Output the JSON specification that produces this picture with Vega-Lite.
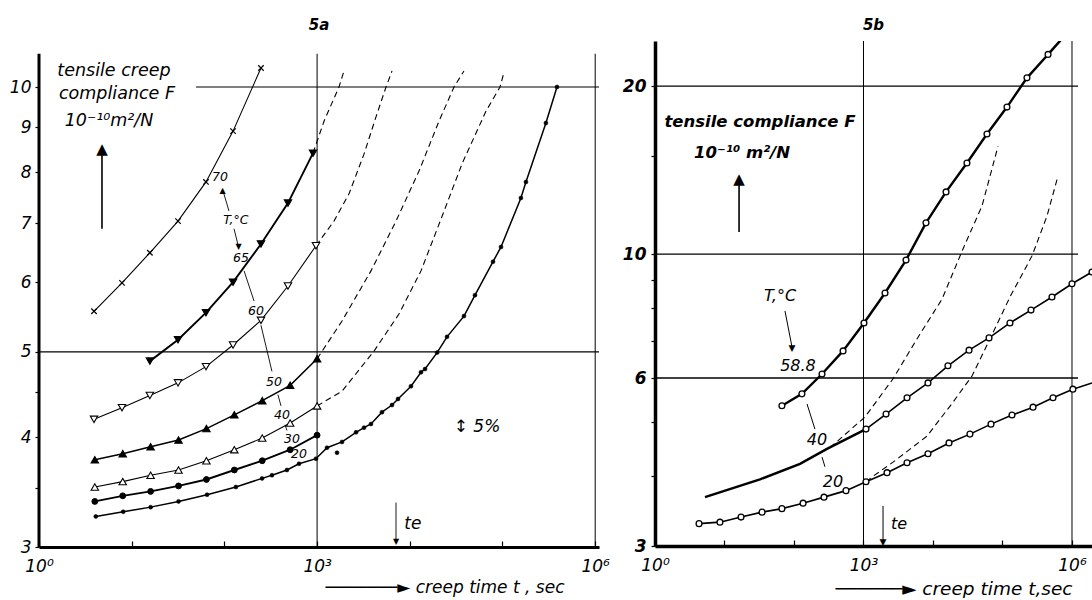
{
  "$schema": "https://vega.github.io/schema/vega-lite/v6.json",
  "background": "white",
  "padding": {"left": 9, "top": 17, "right": 0, "bottom": 0},
  "config": {
    "font": "DejaVu Sans",
    "view": {"stroke": null},
    "axis": {"domainColor": "black", "tickColor": "black", "labelColor": "black", "titleColor": "black", "grid": false, "labelOverlap": false, "labelFlush": false},
    "title": {"fontSize": 15, "fontWeight": "bold", "fontStyle": "italic", "color": "black", "anchor": "middle"}
  },
  "datasets": {
    "a_yaxis": [{"t": 1, "F": 3, "F2": 10.91}],
    "a_hgrid": [{"F": 5, "t": 1, "t2": 1099000}, {"F": 10, "t": 49.4, "t2": 1099000}],
    "a_vgrid": [{"t": 1000, "F": 3, "F2": 10.91}, {"t": 1000000, "F": 3, "F2": 10.91}],
    "a_meas": [
      {"T": "70", "t": 3.92, "F": 5.56}, {"T": "70", "t": 7.86, "F": 5.99}, {"T": "70", "t": 15.7, "F": 6.48}, {"T": "70", "t": 31.6, "F": 7.04}, {"T": "70", "t": 63.3, "F": 7.8}, {"T": "70", "t": 124, "F": 8.91}, {"T": "70", "t": 248, "F": 10.51},
      {"T": "65", "t": 15.7, "F": 4.88}, {"T": "65", "t": 31.6, "F": 5.16}, {"T": "65", "t": 63.3, "F": 5.54}, {"T": "65", "t": 124, "F": 6.0}, {"T": "65", "t": 248, "F": 6.63}, {"T": "65", "t": 485, "F": 7.38}, {"T": "65", "t": 903, "F": 8.41},
      {"T": "60", "t": 3.92, "F": 4.19}, {"T": "60", "t": 7.86, "F": 4.32}, {"T": "60", "t": 15.7, "F": 4.46}, {"T": "60", "t": 31.6, "F": 4.61}, {"T": "60", "t": 63.3, "F": 4.81}, {"T": "60", "t": 124, "F": 5.09}, {"T": "60", "t": 248, "F": 5.43}, {"T": "60", "t": 485, "F": 5.94}, {"T": "60", "t": 973, "F": 6.6},
      {"T": "50", "t": 4, "F": 3.77}, {"T": "50", "t": 8, "F": 3.83}, {"T": "50", "t": 16, "F": 3.9}, {"T": "50", "t": 32, "F": 3.97}, {"T": "50", "t": 64, "F": 4.09}, {"T": "50", "t": 128, "F": 4.24}, {"T": "50", "t": 256, "F": 4.4}, {"T": "50", "t": 512, "F": 4.58}, {"T": "50", "t": 1000, "F": 4.91},
      {"T": "40", "t": 4, "F": 3.51}, {"T": "40", "t": 8, "F": 3.56}, {"T": "40", "t": 16, "F": 3.62}, {"T": "40", "t": 32, "F": 3.67}, {"T": "40", "t": 64, "F": 3.76}, {"T": "40", "t": 128, "F": 3.87}, {"T": "40", "t": 256, "F": 3.99}, {"T": "40", "t": 512, "F": 4.15}, {"T": "40", "t": 1000, "F": 4.34},
      {"T": "30", "t": 4, "F": 3.38}, {"T": "30", "t": 8, "F": 3.43}, {"T": "30", "t": 16, "F": 3.47}, {"T": "30", "t": 32, "F": 3.52}, {"T": "30", "t": 64, "F": 3.58}, {"T": "30", "t": 128, "F": 3.67}, {"T": "30", "t": 256, "F": 3.76}, {"T": "30", "t": 512, "F": 3.87}, {"T": "30", "t": 1000, "F": 4.02},
      {"T": "20", "t": 4.1, "F": 3.25}, {"T": "20", "t": 8.1, "F": 3.29}, {"T": "20", "t": 16, "F": 3.33}, {"T": "20", "t": 32, "F": 3.38}, {"T": "20", "t": 65, "F": 3.44}, {"T": "20", "t": 133, "F": 3.51}, {"T": "20", "t": 255, "F": 3.59}, {"T": "20", "t": 326, "F": 3.62}, {"T": "20", "t": 473, "F": 3.67}, {"T": "20", "t": 638, "F": 3.73}, {"T": "20", "t": 973, "F": 3.78}, {"T": "20", "t": 1279, "F": 3.89}, {"T": "20", "t": 1857, "F": 3.95}, {"T": "20", "t": 2630, "F": 4.05}, {"T": "20", "t": 3206, "F": 4.1}, {"T": "20", "t": 3813, "F": 4.14}, {"T": "20", "t": 5010, "F": 4.27}, {"T": "20", "t": 6430, "F": 4.35}, {"T": "20", "t": 7460, "F": 4.42}, {"T": "20", "t": 10300, "F": 4.57}, {"T": "20", "t": 13200, "F": 4.74}, {"T": "20", "t": 14600, "F": 4.78}, {"T": "20", "t": 19700, "F": 4.99}, {"T": "20", "t": 25200, "F": 5.2}, {"T": "20", "t": 38400, "F": 5.49}, {"T": "20", "t": 50500, "F": 5.8}, {"T": "20", "t": 79000, "F": 6.33}, {"T": "20", "t": 96400, "F": 6.58}, {"T": "20", "t": 158000, "F": 7.48}, {"T": "20", "t": 179000, "F": 7.8}, {"T": "20", "t": 294000, "F": 9.1}, {"T": "20", "t": 387000, "F": 10.0},
      {"T": "20b", "t": 1640, "F": 3.84}
    ],
    "a_ext": [
      {"T": "65", "t": 903, "F": 8.41}, {"T": "65", "t": 1190, "F": 9.15}, {"T": "65", "t": 1722, "F": 10.0}, {"T": "65", "t": 1950, "F": 10.43},
      {"T": "60", "t": 973, "F": 6.6}, {"T": "60", "t": 1521, "F": 7.04}, {"T": "60", "t": 2208, "F": 7.56}, {"T": "60", "t": 3206, "F": 8.39}, {"T": "60", "t": 4320, "F": 9.25}, {"T": "60", "t": 5540, "F": 10.0}, {"T": "60", "t": 6430, "F": 10.43},
      {"T": "50", "t": 1000, "F": 4.91}, {"T": "50", "t": 1857, "F": 5.42}, {"T": "50", "t": 3813, "F": 6.18}, {"T": "50", "t": 7100, "F": 7.04}, {"T": "50", "t": 12600, "F": 8.03}, {"T": "50", "t": 20700, "F": 9.15}, {"T": "50", "t": 30000, "F": 10.0}, {"T": "50", "t": 38400, "F": 10.43},
      {"T": "40", "t": 1000, "F": 4.34}, {"T": "40", "t": 1857, "F": 4.51}, {"T": "40", "t": 4110, "F": 5.01}, {"T": "40", "t": 7640, "F": 5.52}, {"T": "40", "t": 13200, "F": 6.18}, {"T": "40", "t": 22200, "F": 7.12}, {"T": "40", "t": 36600, "F": 8.18}, {"T": "40", "t": 66400, "F": 9.39}, {"T": "40", "t": 94000, "F": 10.0}, {"T": "40", "t": 104000, "F": 10.4}
    ],
    "a_lead": [
      {"kind": "arrow", "t": 4.78, "F": 6.9, "t2": 4.78, "F2": 8.4},
      {"kind": "thin", "t": 112, "F": 7.23, "t2": 96.6, "F2": 7.62},
      {"kind": "thin", "t": 127, "F": 6.9, "t2": 142, "F2": 6.58},
      {"kind": "thin", "t": 163, "F": 6.18, "t2": 209, "F2": 5.71},
      {"kind": "thin", "t": 248, "F": 5.36, "t2": 326, "F2": 4.75},
      {"kind": "thin", "t": 378, "F": 4.47, "t2": 408, "F2": 4.34},
      {"kind": "thin", "t": 451, "F": 4.13, "t2": 473, "F2": 4.07},
      {"kind": "thin", "t": 7100, "F": 3.37, "t2": 7100, "F2": 3.04}
    ],
    "a_head": [
      {"kind": "big", "dir": "up", "t": 4.78, "F": 8.51},
      {"kind": "small", "dir": "up", "t": 95.4, "F": 7.62},
      {"kind": "small", "dir": "down", "t": 142, "F": 6.58},
      {"kind": "small", "dir": "down", "t": 7100, "F": 3.04}
    ],
    "a_text": [
      {"role": "title", "label": "tensile creep", "t": 6.44, "F": 10.43},
      {"role": "title", "label": "compliance F", "t": 6.94, "F": 9.82},
      {"role": "title", "label": "10⁻¹⁰m²/N", "t": 5.69, "F": 9.15},
      {"role": "temp", "label": "70", "t": 89.7, "F": 7.9},
      {"role": "temp", "label": "T,°C", "t": 133, "F": 7.06},
      {"role": "temp", "label": "65", "t": 151, "F": 6.39},
      {"role": "temp", "label": "60", "t": 219, "F": 5.56},
      {"role": "temp", "label": "50", "t": 343, "F": 4.62},
      {"role": "temp", "label": "40", "t": 418, "F": 4.24},
      {"role": "temp", "label": "30", "t": 536, "F": 3.98},
      {"role": "temp", "label": "20", "t": 638, "F": 3.83},
      {"role": "note", "label": "↕ 5%", "t": 53100, "F": 4.11},
      {"role": "note", "label": "te", "t": 10800, "F": 3.19}
    ],
    "b_hgrid": [{"F": 6, "t": 1, "t2": 1220000}, {"F": 10, "t": 1, "t2": 1220000}, {"F": 20, "t": 1, "t2": 1220000}],
    "b_vgrid": [{"t": 1000, "F": 3, "F2": 24.1}, {"t": 1000000, "F": 3, "F2": 24.1}],
    "b_meas": [
      {"T": "58.8", "t": 67, "F": 5.35}, {"T": "58.8", "t": 130, "F": 5.62}, {"T": "58.8", "t": 253, "F": 6.1}, {"T": "58.8", "t": 508, "F": 6.71}, {"T": "58.8", "t": 1016, "F": 7.53}, {"T": "58.8", "t": 2040, "F": 8.52}, {"T": "58.8", "t": 4090, "F": 9.76}, {"T": "58.8", "t": 7930, "F": 11.38}, {"T": "58.8", "t": 15400, "F": 12.93}, {"T": "58.8", "t": 30800, "F": 14.57}, {"T": "58.8", "t": 59800, "F": 16.42}, {"T": "58.8", "t": 116000, "F": 18.35}, {"T": "58.8", "t": 225000, "F": 20.7}, {"T": "58.8", "t": 452000, "F": 22.8},
      {"T": "40", "t": 1086, "F": 4.86}, {"T": "40", "t": 2110, "F": 5.17}, {"T": "40", "t": 4230, "F": 5.53}, {"T": "40", "t": 8470, "F": 5.88}, {"T": "40", "t": 16400, "F": 6.31}, {"T": "40", "t": 33000, "F": 6.73}, {"T": "40", "t": 64000, "F": 7.08}, {"T": "40", "t": 128000, "F": 7.53}, {"T": "40", "t": 257000, "F": 7.94}, {"T": "40", "t": 515000, "F": 8.38}, {"T": "40", "t": 1000000, "F": 8.85}, {"T": "40", "t": 1940000, "F": 9.29},
      {"T": "20", "t": 4.3, "F": 3.29}, {"T": "20", "t": 8.6, "F": 3.31}, {"T": "20", "t": 17.3, "F": 3.38}, {"T": "20", "t": 34.7, "F": 3.45}, {"T": "20", "t": 67, "F": 3.5}, {"T": "20", "t": 135, "F": 3.58}, {"T": "20", "t": 270, "F": 3.67}, {"T": "20", "t": 560, "F": 3.77}, {"T": "20", "t": 1086, "F": 3.91}, {"T": "20", "t": 2180, "F": 4.06}, {"T": "20", "t": 4230, "F": 4.23}, {"T": "20", "t": 8470, "F": 4.39}, {"T": "20", "t": 17000, "F": 4.59}, {"T": "20", "t": 34000, "F": 4.76}, {"T": "20", "t": 68300, "F": 4.96}, {"T": "20", "t": 137000, "F": 5.15}, {"T": "20", "t": 275000, "F": 5.32}, {"T": "20", "t": 533000, "F": 5.53}, {"T": "20", "t": 1030000, "F": 5.73}
    ],
    "b_curve": [
      {"S": "58.8t", "t": 452000, "F": 22.8}, {"S": "58.8t", "t": 800000, "F": 24.7},
      {"S": "20t", "t": 1030000, "F": 5.73}, {"S": "20t", "t": 1940000, "F": 5.88},
      {"S": "40fit", "t": 5.24, "F": 3.67}, {"S": "40fit", "t": 32.4, "F": 3.95}, {"S": "40fit", "t": 122, "F": 4.21}, {"S": "40fit", "t": 298, "F": 4.48}, {"S": "40fit", "t": 1086, "F": 4.86},
      {"S": "E", "t": 330, "F": 4.5}, {"S": "E", "t": 1052, "F": 5.11}, {"S": "E", "t": 2660, "F": 5.98}, {"S": "E", "t": 5880, "F": 7.05}, {"S": "E", "t": 13500, "F": 8.31}, {"S": "E", "t": 27000, "F": 10.22}, {"S": "E", "t": 50700, "F": 12.2}, {"S": "E", "t": 86100, "F": 15.6},
      {"S": "F", "t": 1086, "F": 3.91}, {"S": "F", "t": 1370, "F": 4.0}, {"S": "F", "t": 2660, "F": 4.24}, {"S": "F", "t": 8200, "F": 4.72}, {"S": "F", "t": 19400, "F": 5.43}, {"S": "F", "t": 36400, "F": 6.05}, {"S": "F", "t": 66100, "F": 7.05}, {"S": "F", "t": 128000, "F": 8.38}, {"S": "F", "t": 266000, "F": 9.93}, {"S": "F", "t": 437000, "F": 11.71}, {"S": "F", "t": 629000, "F": 13.81}
    ],
    "b_lead": [
      {"kind": "arrow", "t": 16.2, "F": 10.96, "t2": 16.2, "F2": 13.4},
      {"kind": "thin", "t": 74.2, "F": 7.91, "t2": 93.6, "F2": 6.82},
      {"kind": "thin", "t": 154, "F": 5.39, "t2": 200, "F2": 4.86},
      {"kind": "thin", "t": 253, "F": 4.33, "t2": 279, "F2": 4.16},
      {"kind": "thin", "t": 1910, "F": 3.54, "t2": 1910, "F2": 3.05}
    ],
    "b_head": [
      {"kind": "big", "dir": "up", "t": 16.2, "F": 13.64},
      {"kind": "small", "dir": "down", "t": 93.6, "F": 6.78},
      {"kind": "small", "dir": "down", "t": 1910, "F": 3.05}
    ],
    "b_text": [
      {"role": "title", "label": "tensile compliance F", "t": 32.4, "F": 17.26},
      {"role": "title", "label": "10⁻¹⁰ m²/N", "t": 17.9, "F": 15.19},
      {"role": "temp", "label": "T,°C", "t": 62.9, "F": 8.42},
      {"role": "temp", "label": "58.8", "t": 114, "F": 6.31},
      {"role": "temp", "label": "40", "t": 214, "F": 4.65},
      {"role": "temp", "label": "20", "t": 364, "F": 3.91},
      {"role": "temp", "label": "te", "t": 3250, "F": 3.29}
    ]
  },
  "hconcat": [
    {
      "width": 560,
      "height": 506,
      "title": {"text": "5a", "offset": 8},
      "encoding": {
        "x": {"field": "t", "type": "quantitative",
          "scale": {"type": "log", "domain": [1, 1099000], "nice": false},
          "axis": {"values": [1, 10, 100, 1000, 10000, 100000, 1000000],
            "labelExpr": "datum.value == 1 ? '10⁰' : datum.value == 1000 ? '10³' : datum.value == 1000000 ? '10⁶' : ''",
            "domainWidth": 3, "tickSize": -6, "tickWidth": 1.2, "labelPadding": 17,
            "labelFontSize": 17, "labelFontStyle": "italic",
            "title": "───────► creep time  t , sec", "titleFontSize": 17, "titleFontStyle": "italic", "titleFontWeight": "normal",
            "titleAlign": "right", "titleBaseline": "alphabetic", "titleX": 525, "titleY": 45}},
        "y": {"field": "F", "type": "quantitative",
          "scale": {"type": "log", "domain": [3, 11.28], "nice": false},
          "axis": {"values": [3, 3.5, 4, 4.5, 5, 6, 7, 8, 9, 10], "format": "~g",
            "labelExpr": "datum.value == 3.5 || datum.value == 4.5 ? '' : datum.label",
            "domain": false, "tickSize": 4, "tickWidth": 1.2, "labelPadding": 4,
            "labelFontSize": 17, "labelFontStyle": "italic", "title": null}}
      },
      "layer": [
        {"data": {"name": "a_yaxis"}, "mark": {"type": "rule", "color": "black", "strokeWidth": 3}, "encoding": {"y2": {"field": "F2"}}},
        {"data": {"name": "a_hgrid"}, "mark": {"type": "rule", "color": "black", "strokeWidth": 1.2}, "encoding": {"x2": {"field": "t2"}}},
        {"data": {"name": "a_vgrid"}, "mark": {"type": "rule", "color": "black", "strokeWidth": 1}, "encoding": {"y2": {"field": "F2"}}},
        {"data": {"name": "a_ext"}, "mark": {"type": "line", "color": "black", "strokeWidth": 1.1, "strokeDash": [6, 4], "clip": true}, "encoding": {"detail": {"field": "T"}}},
        {"data": {"name": "a_meas"}, "transform": [{"filter": {"field": "T", "oneOf": ["70", "60", "40"]}}], "mark": {"type": "line", "color": "black", "strokeWidth": 1.1, "clip": true}, "encoding": {"detail": {"field": "T"}}},
        {"data": {"name": "a_meas"}, "transform": [{"filter": {"field": "T", "oneOf": ["50", "20"]}}], "mark": {"type": "line", "color": "black", "strokeWidth": 1.5, "clip": true}, "encoding": {"detail": {"field": "T"}}},
        {"data": {"name": "a_meas"}, "transform": [{"filter": {"field": "T", "oneOf": ["65", "30"]}}], "mark": {"type": "line", "color": "black", "strokeWidth": 1.9, "clip": true}, "encoding": {"detail": {"field": "T"}}},
        {"data": {"name": "a_meas"}, "transform": [{"filter": {"field": "T", "oneOf": ["65", "60", "50", "40"]}}], "mark": {"type": "point", "filled": true, "stroke": "black", "strokeWidth": 1.1, "opacity": 1, "size": 55},
          "encoding": {
            "shape": {"field": "T", "type": "nominal", "scale": {"domain": ["70", "65", "60", "50", "40", "30", "20", "20b"], "range": ["M-1,-1L1,1M-1,1L1,-1", "triangle-down", "triangle-down", "triangle-up", "triangle-up", "circle", "circle", "circle"]}, "legend": null},
            "fill": {"field": "T", "type": "nominal", "scale": {"domain": ["70", "65", "60", "50", "40", "30", "20", "20b"], "range": ["black", "black", "white", "black", "white", "black", "black", "black"]}, "legend": null}}},
        {"data": {"name": "a_meas"}, "transform": [{"filter": {"field": "T", "oneOf": ["30"]}}], "mark": {"type": "point", "filled": true, "stroke": "black", "strokeWidth": 1, "opacity": 1, "size": 34},
          "encoding": {
            "shape": {"field": "T", "type": "nominal", "scale": {"domain": ["70", "65", "60", "50", "40", "30", "20", "20b"], "range": ["M-1,-1L1,1M-1,1L1,-1", "triangle-down", "triangle-down", "triangle-up", "triangle-up", "circle", "circle", "circle"]}, "legend": null},
            "fill": {"field": "T", "type": "nominal", "scale": {"domain": ["70", "65", "60", "50", "40", "30", "20", "20b"], "range": ["black", "black", "white", "black", "white", "black", "black", "black"]}, "legend": null}}},
        {"data": {"name": "a_meas"}, "transform": [{"filter": {"field": "T", "oneOf": ["70"]}}], "mark": {"type": "point", "filled": true, "stroke": "black", "strokeWidth": 1.2, "opacity": 1, "size": 30},
          "encoding": {
            "shape": {"field": "T", "type": "nominal", "scale": {"domain": ["70", "65", "60", "50", "40", "30", "20", "20b"], "range": ["M-1,-1L1,1M-1,1L1,-1", "triangle-down", "triangle-down", "triangle-up", "triangle-up", "circle", "circle", "circle"]}, "legend": null},
            "fill": {"field": "T", "type": "nominal", "scale": {"domain": ["70", "65", "60", "50", "40", "30", "20", "20b"], "range": ["black", "black", "white", "black", "white", "black", "black", "black"]}, "legend": null}}},
        {"data": {"name": "a_meas"}, "transform": [{"filter": {"field": "T", "oneOf": ["20", "20b"]}}], "mark": {"type": "point", "filled": true, "stroke": "black", "strokeWidth": 0.5, "opacity": 1, "size": 16},
          "encoding": {
            "shape": {"field": "T", "type": "nominal", "scale": {"domain": ["70", "65", "60", "50", "40", "30", "20", "20b"], "range": ["M-1,-1L1,1M-1,1L1,-1", "triangle-down", "triangle-down", "triangle-up", "triangle-up", "circle", "circle", "circle"]}, "legend": null},
            "fill": {"field": "T", "type": "nominal", "scale": {"domain": ["70", "65", "60", "50", "40", "30", "20", "20b"], "range": ["black", "black", "white", "black", "white", "black", "black", "black"]}, "legend": null}}},
        {"data": {"name": "a_lead"}, "transform": [{"filter": "datum.kind == 'arrow'"}], "mark": {"type": "rule", "color": "black", "strokeWidth": 1.6}, "encoding": {"x2": {"field": "t2"}, "y2": {"field": "F2"}}},
        {"data": {"name": "a_lead"}, "transform": [{"filter": "datum.kind == 'thin'"}], "mark": {"type": "rule", "color": "black", "strokeWidth": 0.9}, "encoding": {"x2": {"field": "t2"}, "y2": {"field": "F2"}}},
        {"data": {"name": "a_head"}, "transform": [{"filter": "datum.kind == 'big'"}], "mark": {"type": "text", "text": "▲", "fontSize": 15, "color": "black", "baseline": "middle", "align": "center"}},
        {"data": {"name": "a_head"}, "transform": [{"filter": "datum.kind == 'small' && datum.dir == 'up'"}], "mark": {"type": "text", "text": "▲", "fontSize": 8, "color": "black", "baseline": "middle", "align": "center"}},
        {"data": {"name": "a_head"}, "transform": [{"filter": "datum.kind == 'small' && datum.dir == 'down'"}], "mark": {"type": "text", "text": "▼", "fontSize": 8, "color": "black", "baseline": "middle", "align": "center"}},
        {"data": {"name": "a_text"}, "transform": [{"filter": "datum.role == 'title'"}], "mark": {"type": "text", "fontStyle": "italic", "color": "black", "fontSize": 17.5, "baseline": "middle", "align": "center"}, "encoding": {"text": {"field": "label"}}},
        {"data": {"name": "a_text"}, "transform": [{"filter": "datum.role == 'temp'"}], "mark": {"type": "text", "fontStyle": "italic", "color": "black", "fontSize": 12.5, "baseline": "middle", "align": "center"}, "encoding": {"text": {"field": "label"}}},
        {"data": {"name": "a_text"}, "transform": [{"filter": "datum.role == 'note'"}], "mark": {"type": "text", "fontStyle": "italic", "color": "black", "fontSize": 17, "baseline": "middle", "align": "center"}, "encoding": {"text": {"field": "label"}}}
      ]
    },
    {
      "width": 437,
      "height": 505,
      "title": {"text": "5b", "offset": 8},
      "encoding": {
        "x": {"field": "t", "type": "quantitative",
          "scale": {"type": "log", "domain": [1, 1940000], "nice": false},
          "axis": {"values": [1, 10, 100, 1000, 10000, 100000, 1000000],
            "labelExpr": "datum.value == 1 ? '10⁰' : datum.value == 1000 ? '10³' : datum.value == 1000000 ? '10⁶' : ''",
            "domainWidth": 3.5, "tickSize": -6, "tickWidth": 1.2, "labelPadding": 17,
            "labelFontSize": 17, "labelFontStyle": "italic",
            "title": "──────► creep time t,sec", "titleFontSize": 18.5, "titleFontStyle": "italic", "titleFontWeight": "normal",
            "titleAlign": "right", "titleBaseline": "alphabetic", "titleX": 417, "titleY": 48}},
        "y": {"field": "F", "type": "quantitative",
          "scale": {"type": "log", "domain": [3, 24.1], "nice": false},
          "axis": {"values": [3, 4, 5, 6, 7, 8, 9, 10, 15, 20], "format": "~g",
            "labelExpr": "indexof([3, 6, 10, 20], datum.value) >= 0 ? datum.label : ''",
            "domainWidth": 3.5, "tickSize": 4, "tickWidth": 1.2, "labelPadding": 5,
            "labelFontSize": 17, "labelFontStyle": "italic", "labelFontWeight": "bold", "title": null}}
      },
      "layer": [
        {"data": {"name": "b_hgrid"}, "mark": {"type": "rule", "color": "black", "strokeWidth": 1.3}, "encoding": {"x2": {"field": "t2"}}},
        {"data": {"name": "b_vgrid"}, "mark": {"type": "rule", "color": "black", "strokeWidth": 1}, "encoding": {"y2": {"field": "F2"}}},
        {"data": {"name": "b_curve"}, "transform": [{"filter": {"field": "S", "oneOf": ["E", "F"]}}], "mark": {"type": "line", "color": "black", "strokeWidth": 1.1, "strokeDash": [6, 4], "clip": true}, "encoding": {"detail": {"field": "S"}}},
        {"data": {"name": "b_curve"}, "transform": [{"filter": {"field": "S", "oneOf": ["58.8t", "40fit"]}}], "mark": {"type": "line", "color": "black", "strokeWidth": 2.5, "clip": true}, "encoding": {"detail": {"field": "S"}}},
        {"data": {"name": "b_curve"}, "transform": [{"filter": {"field": "S", "oneOf": ["20t"]}}], "mark": {"type": "line", "color": "black", "strokeWidth": 1.6, "clip": true}, "encoding": {"detail": {"field": "S"}}},
        {"data": {"name": "b_meas"}, "transform": [{"filter": {"field": "T", "oneOf": ["58.8"]}}], "mark": {"type": "line", "color": "black", "strokeWidth": 2.4, "clip": true}, "encoding": {"detail": {"field": "T"}}},
        {"data": {"name": "b_meas"}, "transform": [{"filter": {"field": "T", "oneOf": ["40", "20"]}}], "mark": {"type": "line", "color": "black", "strokeWidth": 1.6, "clip": true}, "encoding": {"detail": {"field": "T"}}},
        {"data": {"name": "b_meas"}, "mark": {"type": "point", "shape": "circle", "filled": true, "fill": "white", "stroke": "black", "strokeWidth": 1.3, "opacity": 1, "size": 34, "clip": true}},
        {"data": {"name": "b_lead"}, "transform": [{"filter": "datum.kind == 'arrow'"}], "mark": {"type": "rule", "color": "black", "strokeWidth": 1.6}, "encoding": {"x2": {"field": "t2"}, "y2": {"field": "F2"}}},
        {"data": {"name": "b_lead"}, "transform": [{"filter": "datum.kind == 'thin'"}], "mark": {"type": "rule", "color": "black", "strokeWidth": 1}, "encoding": {"x2": {"field": "t2"}, "y2": {"field": "F2"}}},
        {"data": {"name": "b_head"}, "transform": [{"filter": "datum.kind == 'big'"}], "mark": {"type": "text", "text": "▲", "fontSize": 15, "color": "black", "baseline": "middle", "align": "center"}},
        {"data": {"name": "b_head"}, "transform": [{"filter": "datum.kind == 'small' && datum.dir == 'down'"}], "mark": {"type": "text", "text": "▼", "fontSize": 9, "color": "black", "baseline": "middle", "align": "center"}},
        {"data": {"name": "b_text"}, "transform": [{"filter": "datum.role == 'title'"}], "mark": {"type": "text", "fontStyle": "italic", "fontWeight": "bold", "color": "black", "fontSize": 16.5, "baseline": "middle", "align": "center"}, "encoding": {"text": {"field": "label"}}},
        {"data": {"name": "b_text"}, "transform": [{"filter": "datum.role == 'temp'"}], "mark": {"type": "text", "fontStyle": "italic", "color": "black", "fontSize": 16, "baseline": "middle", "align": "center"}, "encoding": {"text": {"field": "label"}}}
      ]
    }
  ],
  "spacing": 12
}
